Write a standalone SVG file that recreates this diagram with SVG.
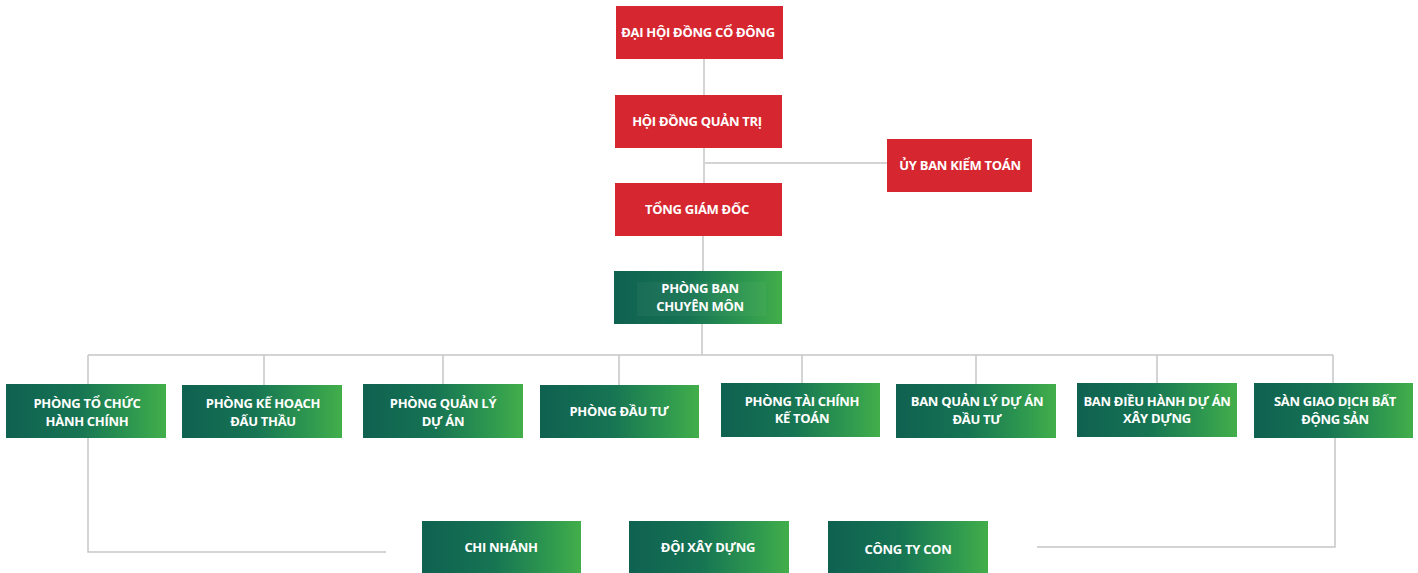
<svg xmlns="http://www.w3.org/2000/svg" width="1418" height="573" viewBox="0 0 1418 573">
<defs>
<linearGradient id="g" x1="0" y1="0" x2="1" y2="0">
<stop offset="0" stop-color="#0f6150"/>
<stop offset="0.45" stop-color="#167453"/>
<stop offset="0.8" stop-color="#2e994f"/>
<stop offset="1" stop-color="#42ae4a"/>
</linearGradient>
</defs>
<style>
.red{fill:#d6262f}
.grn{fill:url(#g)}
.t{font-family:"Open Sans","Liberation Sans",sans-serif;font-weight:bold;font-size:13px;letter-spacing:-0.3px;fill:#ffffff;text-anchor:middle}
.c{fill:none;stroke:#c6c6c6;stroke-width:1.5}
</style>
<rect width="1418" height="573" fill="#ffffff"/>
<g id="connectors">
<path class="c" d="M704,59V95M704,148V183M705,163H887M703,236V271M702,324V355"/>
<path class="c" d="M88,355H1333M88,355V384M264,355V385M443,355V384M619,355V385M802,355V383M976,355V384M1157,355V383M1333,355V383"/>
<path class="c" d="M88,438V552H386M1335,438V547H1037"/>
</g>
<g id="n-dhdcd"><rect class="red" x="616" y="6" width="167" height="53"/><text class="t" x="698" y="37">ĐẠI HỘI ĐỒNG CỔ ĐÔNG</text></g>
<g id="n-hdqt"><rect class="red" x="615" y="95" width="167" height="53"/><text class="t" x="697" y="126">HỘI ĐỒNG QUẢN TRỊ</text></g>
<g id="n-ubkt"><rect class="red" x="887" y="139" width="145" height="53"/><text class="t" x="960" y="170">ỦY BAN KIỂM TOÁN</text></g>
<g id="n-tgd"><rect class="red" x="615" y="183" width="167" height="53"/><text class="t" x="697" y="214">TỔNG GIÁM ĐỐC</text></g>
<g id="n-pbcm"><rect class="grn" x="614" y="271" width="168" height="53"/><rect x="637" y="282" width="129" height="34" fill="#ffffff" fill-opacity="0.04"/><text class="t" x="700" y="293">PHÒNG BAN</text><text class="t" x="700" y="311">CHUYÊN MÔN</text></g>
<g id="n-tchc"><rect class="grn" x="6" y="384" width="160" height="54"/><text class="t" x="87" y="408">PHÒNG TỔ CHỨC</text><text class="t" x="87" y="426">HÀNH CHÍNH</text></g>
<g id="n-khdt"><rect class="grn" x="182" y="385" width="160" height="53"/><text class="t" x="263" y="408">PHÒNG KẾ HOẠCH</text><text class="t" x="263" y="426">ĐẤU THẦU</text></g>
<g id="n-qlda"><rect class="grn" x="363" y="384" width="160" height="54"/><text class="t" x="443" y="408">PHÒNG QUẢN LÝ</text><text class="t" x="443" y="426">DỰ ÁN</text></g>
<g id="n-dt"><rect class="grn" x="540" y="385" width="159" height="53"/><text class="t" x="619" y="416">PHÒNG ĐẦU TƯ</text></g>
<g id="n-tckt"><rect class="grn" x="721" y="383" width="159" height="54"/><text class="t" x="802" y="406">PHÒNG TÀI CHÍNH</text><text class="t" x="802" y="423">KẾ TOÁN</text></g>
<g id="n-bqlda"><rect class="grn" x="896" y="384" width="160" height="54"/><text class="t" x="977" y="406">BAN QUẢN LÝ DỰ ÁN</text><text class="t" x="977" y="424">ĐẦU TƯ</text></g>
<g id="n-bdhda"><rect class="grn" x="1077" y="383" width="160" height="54"/><text class="t" x="1157" y="406">BAN ĐIỀU HÀNH DỰ ÁN</text><text class="t" x="1157" y="423">XÂY DỰNG</text></g>
<g id="n-sgd"><rect class="grn" x="1254" y="383" width="159" height="55"/><text class="t" x="1335" y="406">SÀN GIAO DỊCH BẤT</text><text class="t" x="1335" y="424">ĐỘNG SẢN</text></g>
<g id="n-cn"><rect class="grn" x="422" y="521" width="159" height="52"/><text class="t" x="501" y="552">CHI NHÁNH</text></g>
<g id="n-dxd"><rect class="grn" x="629" y="521" width="160" height="52"/><text class="t" x="708" y="552">ĐỘI XÂY DỰNG</text></g>
<g id="n-ctc"><rect class="grn" x="828" y="521" width="160" height="52"/><text class="t" x="908" y="554">CÔNG TY CON</text></g>
</svg>
